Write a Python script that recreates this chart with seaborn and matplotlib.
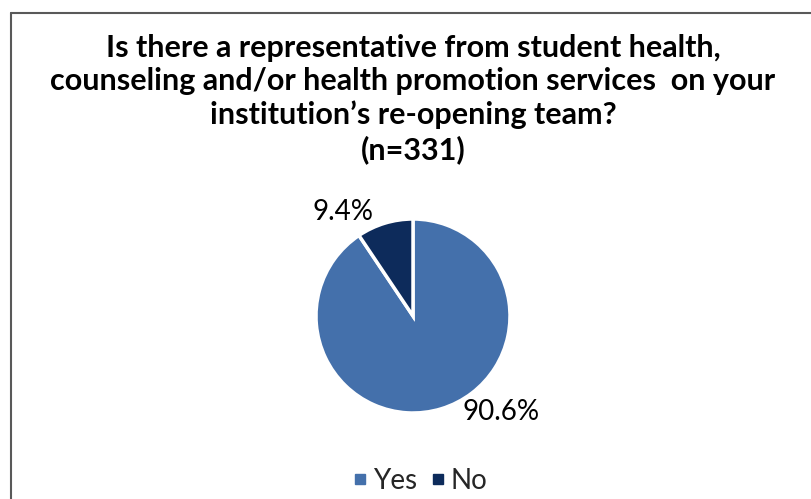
import matplotlib
matplotlib.use("Agg")
import matplotlib.pyplot as plt
import seaborn as sns
from matplotlib.lines import Line2D

categories = ["Yes", "No"]
values = [90.6, 9.4]
label_texts = ["90.6%", "9.4%"]
colors = ["#4470AB", "#0D2B5B"]
title = ("Is there a representative from student health,\n"
         "counseling and/or health promotion services  on your\n"
         "institution\u2019s re-opening team?\n(n=331)")

sns.set_theme(style="white")
plt.rcParams['font.family'] = ['Lato', 'DejaVu Sans']

W, H = 811, 499
fig = plt.figure(figsize=(W / 100, H / 100), dpi=100)

# border lines (top and left only, as in reference)
fig.add_artist(Line2D([10.5 / W, 1.0], [1 - 12.5 / H, 1 - 12.5 / H],
                      transform=fig.transFigure, color="#595959", lw=1.5))
fig.add_artist(Line2D([10.5 / W, 10.5 / W], [1 - 12.5 / H, 0],
                      transform=fig.transFigure, color="#595959", lw=1.5))

fig.text(413 / W, 1 - 99 / H, title, ha="center", va="center",
         fontsize=22, fontweight="bold", color="#000000", linespacing=1.23)

cx, cy, r = 413, 316, 97
half = 1.3 * r
ax = fig.add_axes([(cx - half) / W, (H - cy - half) / H, 2 * half / W, 2 * half / H])
wedges, _ = ax.pie(values, colors=colors, startangle=90, counterclock=False,
                   radius=1.0, wedgeprops=dict(edgecolor="white", linewidth=2.5))
ax.set_xlim(-1.3, 1.3)
ax.set_ylim(-1.3, 1.3)
ax.set_aspect("equal")
ax.axis("off")

ax.text(0.91, -0.99, label_texts[0], ha="center", va="center", fontsize=20, color="#000000")
ax.text(-0.72, 1.07, label_texts[1], ha="center", va="center", fontsize=20, color="#000000")

handles = [Line2D([0], [0], marker="s", linestyle="", markersize=7.5,
                  markerfacecolor=c, markeredgecolor=c) for c in colors]
fig.legend(handles, categories, loc="center", bbox_to_anchor=(418 / W, 1 - 481 / H),
           ncol=2, frameon=False, fontsize=20, handletextpad=0.05,
           columnspacing=0.35, handlelength=0.8)

fig.savefig("out.png", dpi=100, facecolor="white")
